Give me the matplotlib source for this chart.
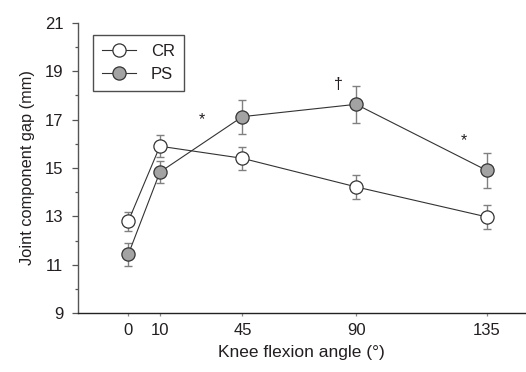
import numpy as np
import matplotlib
matplotlib.use("Agg")
import matplotlib.pyplot as plt
from matplotlib.ticker import MultipleLocator

plt.rcParams['font.family'] = ['Liberation Sans', 'DejaVu Sans']

# data
angles = [0, 10, 45, 90, 135]
cr_mean = [12.8, 15.9, 15.4, 14.22, 12.98]
cr_err = [0.4, 0.45, 0.48, 0.5, 0.49]
ps_mean = [11.43, 14.83, 17.12, 17.63, 14.9]
ps_err = [0.48, 0.45, 0.7, 0.77, 0.73]
y_ticks = [9, 11, 13, 15, 17, 19, 21]

# significance marks: (text, angle, height)
marks = [("*", 28, 17.0), ("\u2020", 83, 18.45), ("*", 127, 16.15)]

# the original x axis is not evenly spaced between the angles
tick_angles = [0, 10, 45, 90, 135]
tick_units = [0, 31.7, 114.4, 228.4, 359.4]
s_lo = (tick_units[1] - tick_units[0]) / (tick_angles[1] - tick_angles[0])
s_hi = (tick_units[-1] - tick_units[-2]) / (tick_angles[-1] - tick_angles[-2])

def fwd(a):
    a = np.asarray(a, float)
    return np.where(a < 0, a * s_lo,
                    np.where(a > 135, tick_units[-1] + (a - 135) * s_hi,
                             np.interp(a, tick_angles, tick_units)))

def inv(u):
    u = np.asarray(u, float)
    return np.where(u < 0, u / s_lo,
                    np.where(u > tick_units[-1], 135 + (u - tick_units[-1]) / s_hi,
                             np.interp(u, tick_units, tick_angles)))

dark = '#231f20'

fig = plt.figure(figsize=(5.26, 3.72), dpi=100)
ax = fig.add_axes([0.1483, 0.1578, 0.85, 0.7812])
ax.set_xscale('function', functions=(fwd, inv))

ax.errorbar(angles, cr_mean, yerr=cr_err, fmt='none', ecolor='#808080',
            elinewidth=1.0, capsize=3.2, capthick=1.0, zorder=2)
ax.errorbar(angles, ps_mean, yerr=ps_err, fmt='none', ecolor='#808080',
            elinewidth=1.0, capsize=3.2, capthick=1.0, zorder=2)
ax.plot(angles, cr_mean, '-o', color='#333333', lw=0.8, ms=9.5,
        mfc='white', mec='#333333', mew=0.9, label='CR', zorder=3)
ax.plot(angles, ps_mean, '-o', color='#333333', lw=0.8, ms=9.5,
        mfc='#a3a3a3', mec='#333333', mew=0.9, label='PS', zorder=3)

for txt, a, h in marks:
    ax.text(a, h, txt, ha='center', va='center', fontsize=11.5, color=dark)

ax.set_xlim(-15.9, 148.2)
ax.set_ylim(9, 21)
ax.set_xticks(angles)
ax.set_yticks(y_ticks)
ax.yaxis.set_minor_locator(MultipleLocator(1))
ax.tick_params(axis='y', which='major', length=4.5, width=0.9, color='#555555',
               labelsize=12, labelcolor=dark, pad=6)
ax.tick_params(axis='y', which='minor', length=2.2, width=0.9, color='#555555')
ax.tick_params(axis='x', length=2, width=0.9, color='#888888',
               labelsize=12, labelcolor=dark, pad=5)

for s in ['top', 'right']:
    ax.spines[s].set_visible(False)
ax.spines['left'].set_color('#555555')
ax.spines['left'].set_linewidth(1.0)
ax.spines['bottom'].set_color('#222222')
ax.spines['bottom'].set_linewidth(1.0)

ax.set_xlabel('Knee flexion angle (\u00b0)', fontsize=12.5, color=dark, labelpad=5)
ax.set_ylabel('Joint component gap (mm)', fontsize=11.8, color=dark, labelpad=7)

leg = ax.legend(loc='upper left', bbox_to_anchor=(0.034, 0.958), borderaxespad=0,
                fontsize=12, frameon=True, fancybox=False, handlelength=2.0,
                handletextpad=0.9, borderpad=0.55, labelspacing=0.45)
leg.get_frame().set_edgecolor('#222222')
leg.get_frame().set_linewidth(1.0)
for t in leg.get_texts():
    t.set_color(dark)

fig.savefig('out.png', dpi=100)
